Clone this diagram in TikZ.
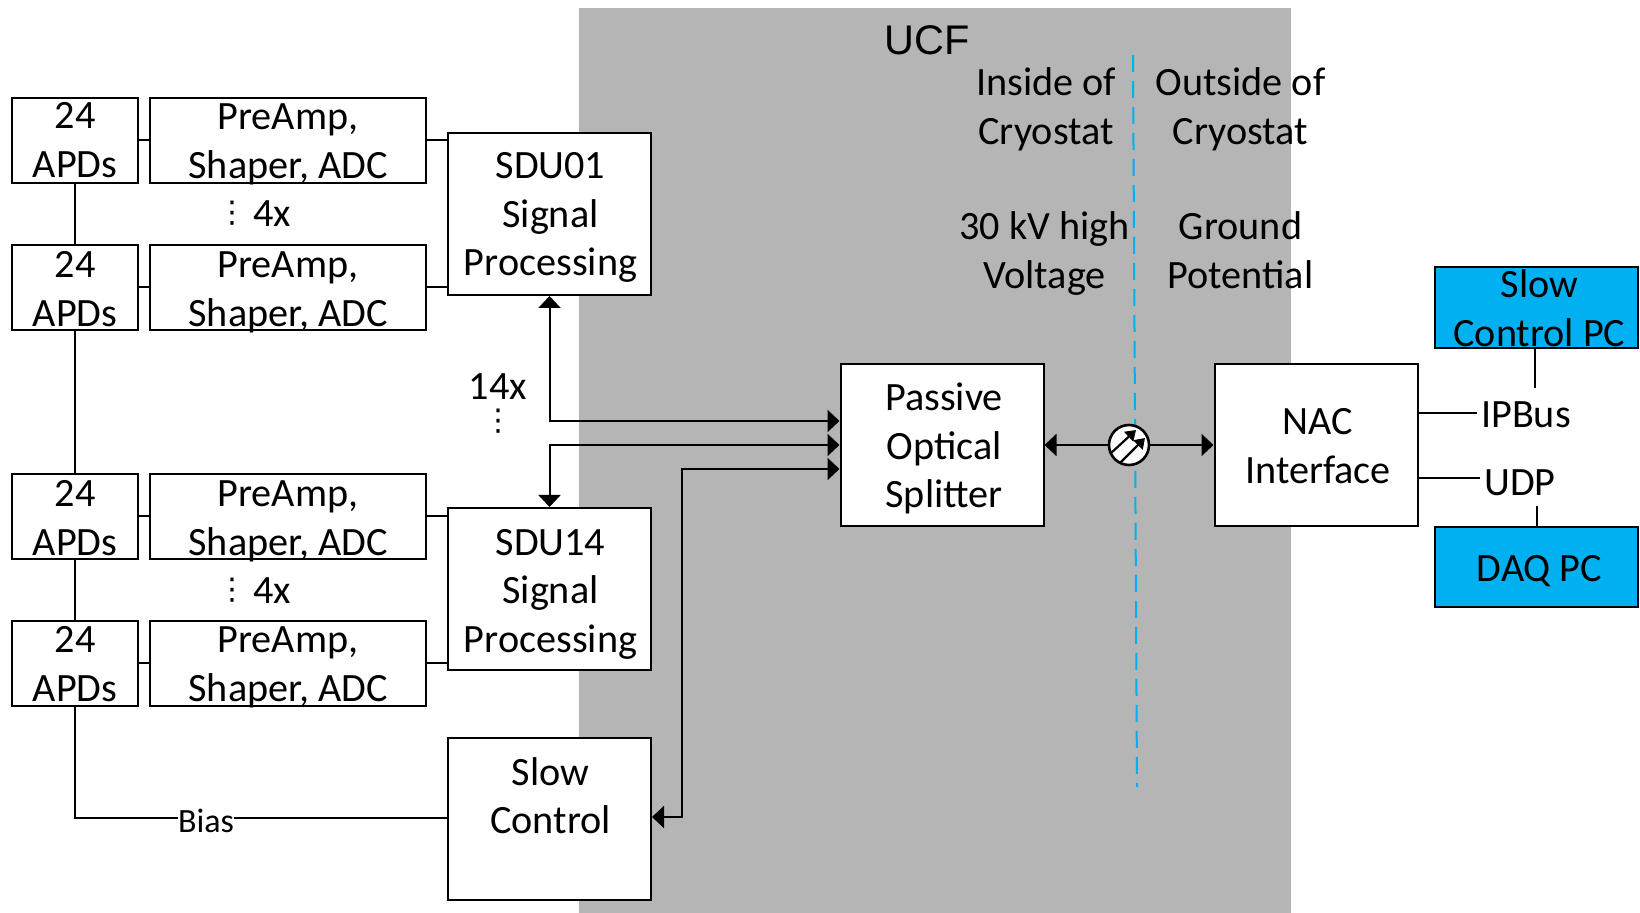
\documentclass[tikz,border=0pt]{standalone}
\usepackage{fontspec}
\setmainfont{Carlito}
\newfontfamily\ucffont{Liberation Sans}
\newfontfamily\dotfont{DejaVu Sans}
\usetikzlibrary{arrows.meta,calc}
\newcommand{\threedots}{{\dotfont\fontsize{15}{18}\selectfont ⋮}}
% \tl{dx}{dy}{lines}: lines centred on the node, moved by dx right and dy down, taking no room
\newcommand{\tl}[3]{\raisebox{\dimexpr-#2-7.15pt\relax}[0pt][0pt]{\makebox[0pt]{\hspace*{\dimexpr2\dimexpr#1\relax\relax}\begin{tabular}{@{}c@{}}#3\end{tabular}}}}
\definecolor{ucfgray}{HTML}{B5B5B5}
\definecolor{pcblue}{HTML}{00B0F0}
\tikzset{
  x=0.5pt,y=-0.5pt,
  txt/.style={font=\fontsize{20.1}{24.4}\selectfont,inner sep=0pt,text=black},
  blockw/.style={draw=black,line width=1pt,fill=white,txt},
  apd/.style={blockw,minimum width=63pt,minimum height=42.5pt},
  amp/.style={blockw,minimum width=138pt,minimum height=42.5pt},
  big/.style={blockw,minimum width=101.5pt,minimum height=81pt},
  pc/.style={blockw,fill=pcblue,minimum width=101.5pt},
  wire/.style={draw=black,line width=1pt},
  arr/.style={wire,{Triangle[length=6pt,width=11pt]}-{Triangle[length=6pt,width=11pt]}},
  inarr/.style={wire,line width=1.1pt,-{Triangle[length=5pt,width=6.5pt]}},
}
\begin{document}
\begin{tikzpicture}
\useasboundingbox (0,0) rectangle (1640,913);
\fill[ucfgray] (579,8) rectangle (1291,913);
\node[font=\ucffont\fontsize{20.7}{25}\selectfont,inner sep=0pt] (ucf) at (927.5,40) {UCF};
\coordinate (dashtop) at (1133,55);
\coordinate (dashbot) at (1137,787);
\draw[pcblue,line width=1pt,dash pattern=on 8.5pt off 4.5pt] (dashtop) -- (dashbot);
\node[txt] (inside) at (1046,106.2) {\tl{0pt}{0pt}{Inside of\\Cryostat}};
\node[txt] (outside) at (1240.5,106.2) {\tl{0pt}{0pt}{Outside of\\Cryostat}};
\node[txt] (hv) at (1044.5,250.5) {\tl{0pt}{0pt}{30 kV high\\Voltage}};
\node[txt] (gnd) at (1240.5,250) {\tl{0pt}{0pt}{Ground\\Potential}};

\node[apd] (a1) at (75,140.5) {\tl{0pt}{-.5pt}{24\\APDs}};
\node[amp] (p1) at (288,140.5) {\tl{0pt}{-.25pt}{PreAmp,\\Shaper, ADC}};
\node[apd] (a2) at (75,287.5) {\tl{0pt}{.25pt}{24\\APDs}};
\node[amp] (p2) at (288,287.5) {\tl{0pt}{.25pt}{PreAmp,\\Shaper, ADC}};
\node[apd] (a3) at (75,516.5) {\tl{0pt}{.25pt}{24\\APDs}};
\node[amp] (p3) at (288,516.5) {\tl{0pt}{.25pt}{PreAmp,\\Shaper, ADC}};
\node[apd] (a4) at (75,663.5) {\tl{0pt}{0pt}{24\\APDs}};
\node[amp] (p4) at (288,663.5) {\tl{0pt}{0pt}{PreAmp,\\Shaper, ADC}};
\node[big] (sdu1) at (549.5,214) {\tl{0.5pt}{-.25pt}{SDU01\\Signal\\Processing}};
\node[big] (sdu14) at (549.5,589) {\tl{0.5pt}{.6pt}{SDU14\\Signal\\Processing}};
\node[big] (sc) at (549.5,819) {\tl{0.5pt}{-11.6pt}{Slow\\Control}};
\node[big] (split) at (942,445) {\tl{1pt}{.2pt}{Passive\\Optical\\Splitter}};
\node[big] (nac) at (1316,445) {\tl{1pt}{.2pt}{NAC\\Interface}};
\node[pc,minimum height=40.5pt] (spc) at (1536.5,307.5) {\tl{1.5pt}{.3pt}{Slow\\Control PC}};
\node[pc,minimum height=40pt] (daq) at (1536.5,567) {\tl{1.5pt}{.25pt}{DAQ PC}};
\node[txt] (ipbus) at (1526,415) {IPBus};
\node[txt] (udp) at (1520,483) {UDP};
\node[txt] (fourA) at (272,214) {4x};
\node[txt] (fourB) at (272,591) {4x};
\node[txt] (dotsA) at (232,213) {\threedots};
\node[txt] (dotsB) at (232,590) {\threedots};
\node[txt] (fourteen) at (498,387) {14x};
\node[txt] (dotsC) at (498,421) {\threedots};
\node[inner sep=0pt,font=\fontsize{17}{20}\selectfont] (bias) at (206,821) {Bias};

\draw[wire] (a1.east) -- (p1.west);
\draw[wire] (a2.east) -- (p2.west);
\draw[wire] (a3.east) -- (p3.west);
\draw[wire] (a4.east) -- (p4.west);
\draw[wire] (p1.east) -- (p1.east -| sdu1.west);
\draw[wire] (p2.east) -- (p2.east -| sdu1.west);
\draw[wire] (p3.east) -- (p3.east -| sdu14.west);
\draw[wire] (p4.east) -- (p4.east -| sdu14.west);
\draw[wire] (a1.south) -- (a2.north);
\draw[wire] (a2.south) -- (a3.north);
\draw[wire] (a3.south) -- (a4.north);
\coordinate (biaslevel) at (0,818);
\draw[wire] (a4.south) |- (bias.west |- biaslevel);
\draw[wire] (bias.east |- biaslevel) -- (sc.west |- biaslevel);

\coordinate (in1) at (split.west |- 0,421);
\coordinate (in2) at (split.west);
\coordinate (in3) at (split.west |- 0,469);
\coordinate (scin) at (sc.east |- 0,817);
\draw[arr] (sdu1.south) |- (in1);
\draw[arr] (sdu14.north) |- (in2);
\draw[arr] (scin) -- ++(30,0) |- (in3);
\node[circle,draw=black,line width=1.3pt,fill=white,minimum size=20pt,inner sep=0pt] (fib) at (1129,445) {};
\draw[wire,{Triangle[length=6pt,width=11pt]}-] (split.east) -- (fib.west);
\draw[wire,-{Triangle[length=6pt,width=11pt]}] (fib.east) -- (nac.west);
\draw[inarr] ($(fib)+(-19,9)$) -- ($(fib)+(7,-15)$);
\draw[inarr] ($(fib)+(-9,18)$) -- ($(fib)+(16,-7)$);
\coordinate (ipl) at (0,413);
\coordinate (udl) at (0,478);
\draw[wire] (nac.east |- ipl) -- ($(ipbus.west |- ipl)+(-4,0)$);
\draw[wire] (nac.east |- udl) -- ($(udp.west |- udl)+(-4,0)$);
\coordinate (spcdrop) at (1535,388);
\coordinate (daqrise) at (1537,506);
\draw[wire] (spc.south -| spcdrop) -- (spcdrop);
\draw[wire] (daqrise) -- (daq.north -| daqrise);
\end{tikzpicture}
\end{document}
